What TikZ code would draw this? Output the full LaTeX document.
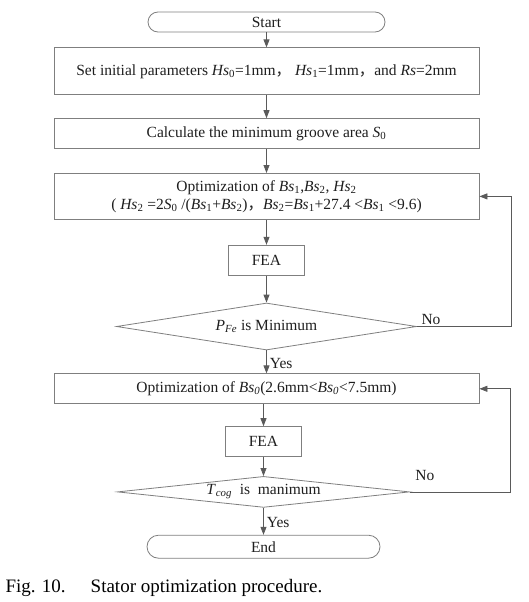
\documentclass[tikz,border=0pt]{standalone}
\usepackage{fontspec}
\setmainfont{Liberation Serif}
\newfontfamily\cjk{Noto Sans CJK SC}
\usetikzlibrary{arrows.meta,positioning,shapes.geometric}
\definecolor{linegray}{HTML}{7F7F7F}
\definecolor{arrowgray}{HTML}{5A5A5A}
\definecolor{textgray}{HTML}{1E1E1E}
\newcommand{\vsub}[2]{\textit{#1}\textsubscript{#2}}
\newcommand{\fwcomma}{{\cjk ，}}

\begin{document}
\begin{tikzpicture}[x=1pt,y=1pt,
processbox/.style={rectangle, draw=linegray, line width=0.8pt, text=textgray, minimum width=425pt, inner sep=2pt, font=\fontsize{15.5}{18}\selectfont, align=center},
feabox/.style={rectangle, draw=linegray, line width=0.8pt, text=textgray, minimum width=76pt, minimum height=30pt, font=\fontsize{15.5}{18}\selectfont},
termnode/.style={rectangle, rounded corners=10pt, draw=linegray, line width=0.8pt, text=textgray, minimum width=237pt, minimum height=20pt, inner sep=1pt, font=\fontsize{15.5}{18}\selectfont},
decision/.style={diamond, aspect=6.4, draw=linegray, line width=0.8pt, text=textgray, minimum width=300pt, minimum height=47pt, inner sep=0pt, font=\fontsize{15.5}{18}\selectfont},
flow/.style={draw=arrowgray, line width=0.8pt, -{Triangle[length=8pt,width=6pt]}},
flowtag/.style={text=textgray, font=\fontsize{15.5}{18}\selectfont, inner sep=1pt}
]
\useasboundingbox (0,0) rectangle (529,-602);

%Nodes
\node[termnode]   (start) at (266.5,-22) {Start};
\node[processbox, minimum height=47pt] (setp) [below=15pt of start]
      {Set initial parameters \vsub{Hs}{0}=1mm\fwcomma\ \vsub{Hs}{1}=1mm\fwcomma and \textit{Rs}=2mm};
\node[processbox, minimum height=30pt] (calc) [below=23pt of setp]
      {Calculate the minimum groove area \vsub{S}{0}};
\node[processbox, minimum height=46pt] (opt1) [below=24pt of calc]
      {Optimization of \vsub{Bs}{1},\vsub{Bs}{2}, \vsub{Hs}{2}\\
       ( \vsub{Hs}{2} =2\vsub{S}{0} /(\vsub{Bs}{1}+\vsub{Bs}{2})\fwcomma \vsub{Bs}{2}=\vsub{Bs}{1}+27.4 <\vsub{Bs}{1} <9.6)};
\node[feabox]     (fea1) [below=25pt of opt1] {FEA};
\node[decision]   (dec1) [below=27pt of fea1] {\textit{P}\textsubscript{\textit{Fe}} is Minimum};
\node[processbox, minimum height=30pt] (opt2) [below=23pt of dec1]
      {Optimization of \textit{Bs}\textsubscript{\textit{0}}(2.6mm<\textit{Bs}\textsubscript{\textit{0}}<7.5mm)};
\node[feabox]     (fea2) [below=22pt of opt2, xshift=-3pt] {FEA};
\node[decision, aspect=9.4, minimum width=292pt, minimum height=31pt] (dec2) [below=19pt of fea2]
      {\textit{T}\textsubscript{\textit{cog}}\ \ is\ \ manimum};
\node[termnode, minimum width=233pt, minimum height=23pt, rounded corners=11.5pt] (stop) [below=27pt of dec2] {End};
\node[anchor=base west, font=\fontsize{19}{22}\selectfont] (caption) at (2,-592)
      {Fig. 10.\hspace{25pt}Stator optimization procedure.};

\coordinate (fb1) at (511,0);
\coordinate (fb2) at (510,0);

%Lines
\draw[flow] (start) -- (setp);
\draw[flow] (setp) -- (calc);
\draw[flow] (calc) -- (opt1);
\draw[flow] (opt1.south -| fea1) -- (fea1);
\draw[flow] (fea1) -- (dec1);
\draw[flow] (dec1) -- node[flowtag, right, pos=0.55, xshift=2pt] {Yes} (opt2.north -| dec1);
\draw[flow] (dec1.east) -- node[flowtag, above, pos=0.15] {No} (dec1.east -| fb1) |- (opt1.east);
\draw[flow] (opt2.south -| fea2) -- (fea2);
\draw[flow] (fea2) -- (dec2);
\draw[flow] (dec2) -- node[flowtag, right, pos=0.55, xshift=2pt] {Yes} (stop);
\draw[flow] (dec2.east) -- node[flowtag, above, pos=0.15, yshift=10pt] {No} (dec2.east -| fb2) |- (opt2.east);

\end{tikzpicture}
\end{document}
